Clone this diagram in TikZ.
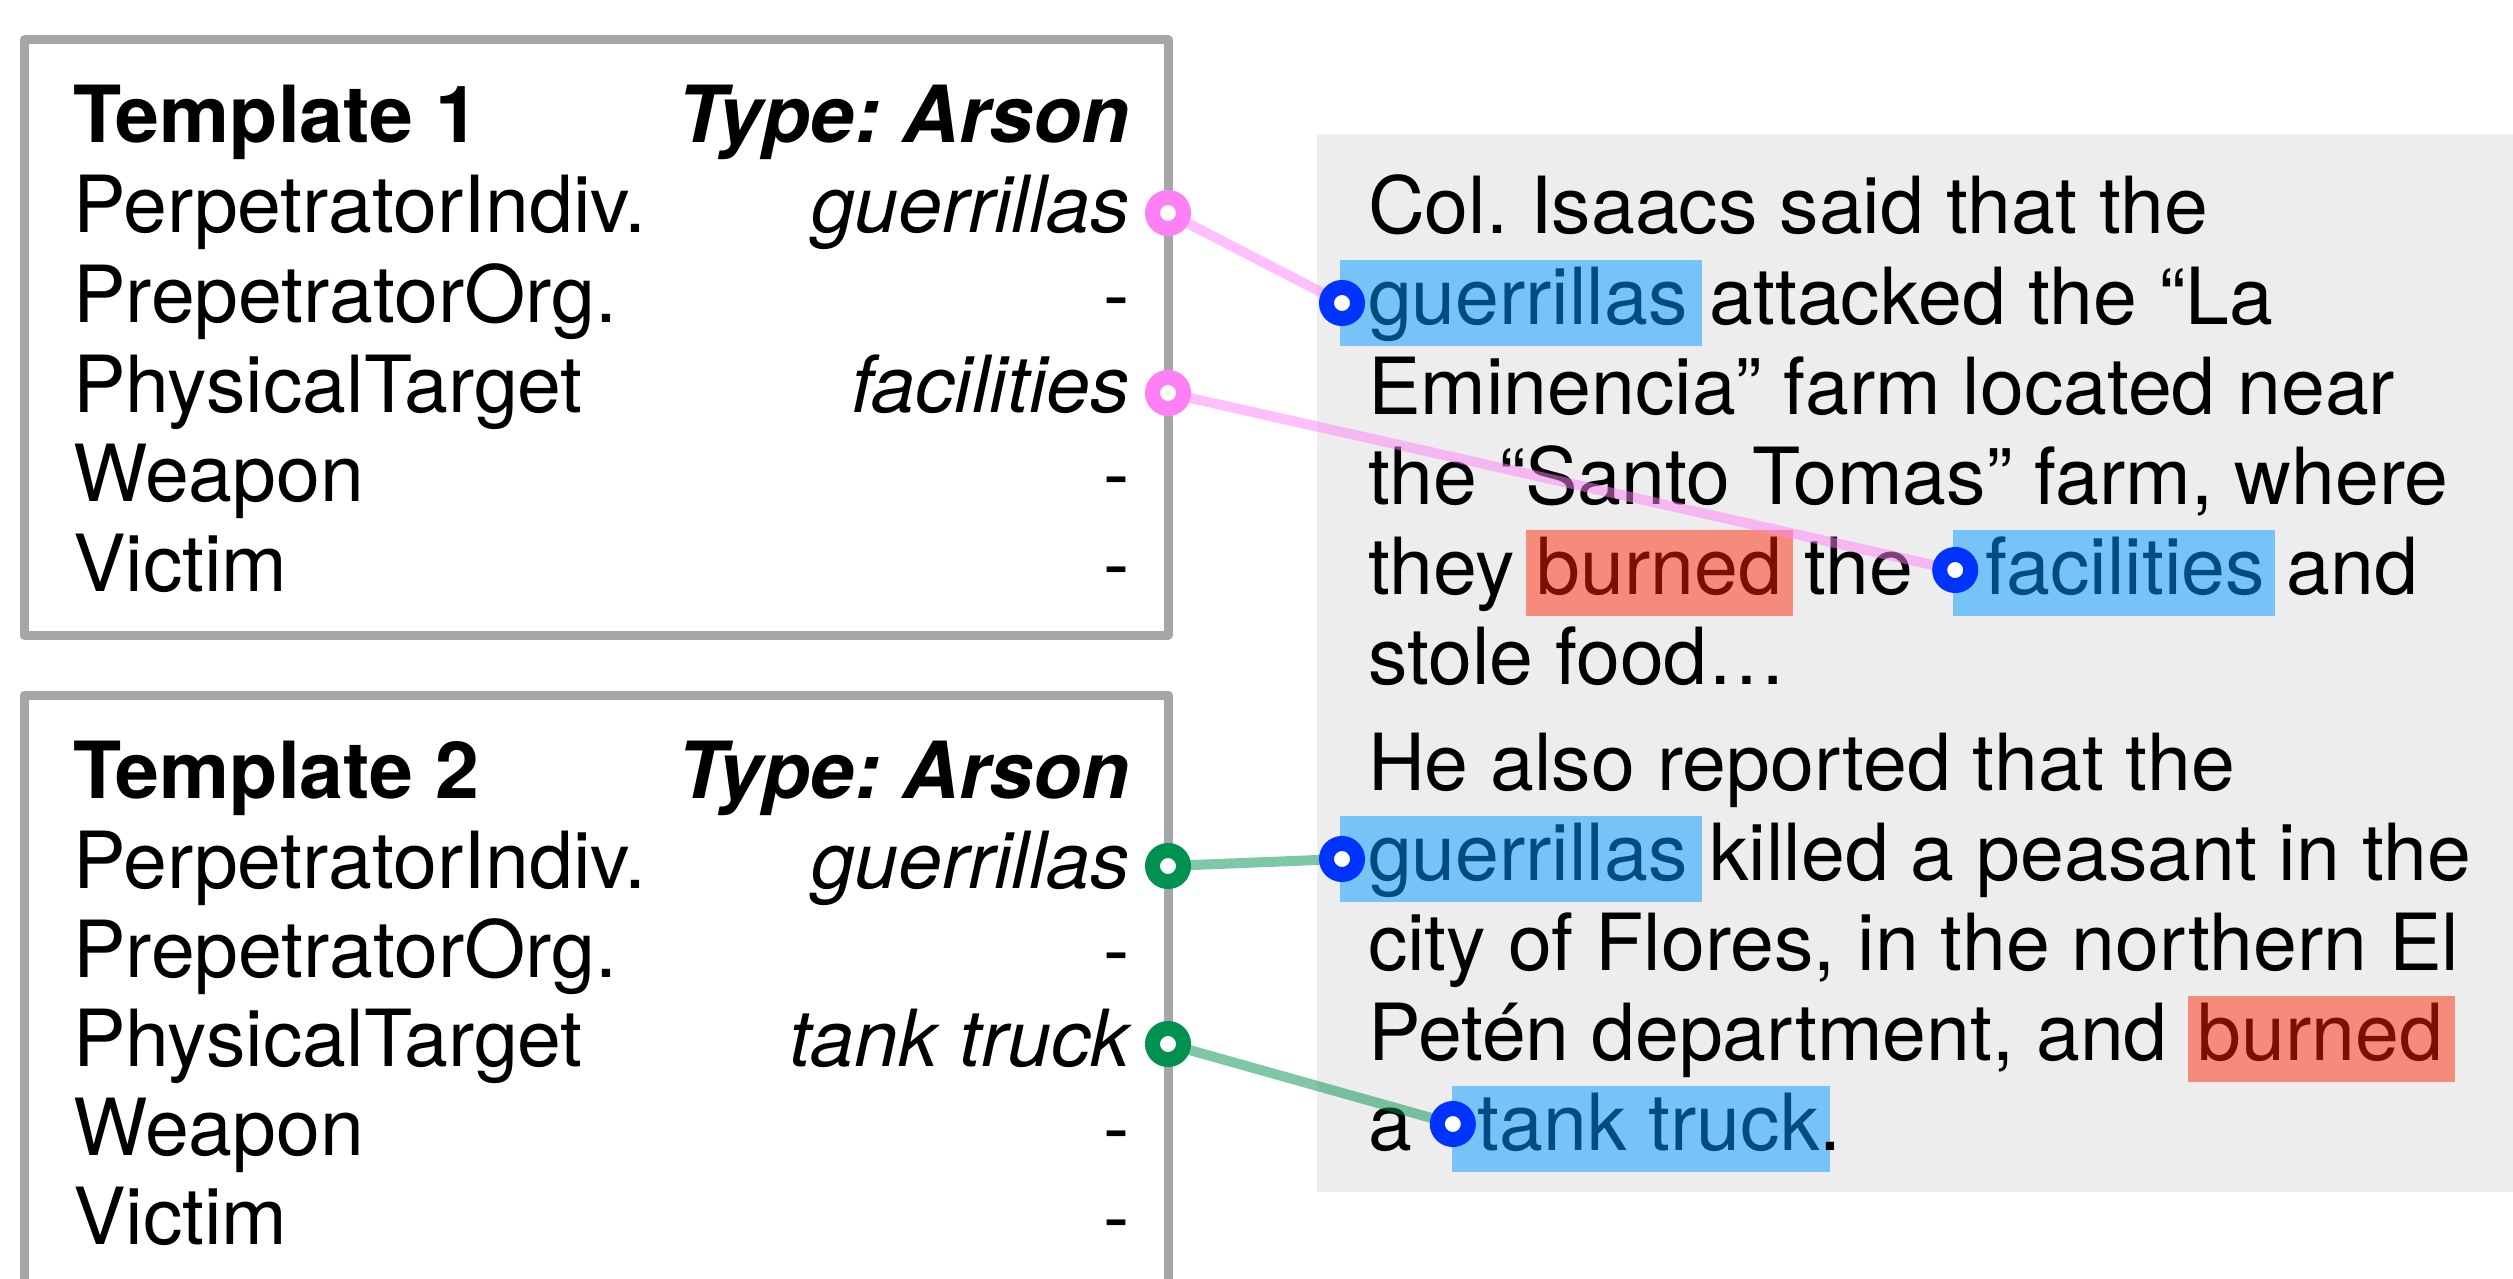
\documentclass[tikz,border=0pt]{standalone}
\usepackage{fontspec}
\setmainfont{TeX Gyre Heros}
\usetikzlibrary{calc,backgrounds}
\frenchspacing
\definecolor{boxgray}{HTML}{A6A6A6}
\definecolor{panelgray}{HTML}{EDEDED}
\definecolor{hlblue}{HTML}{77C3F7}
\definecolor{hlbluetext}{HTML}{004C80}
\definecolor{hlred}{HTML}{F58B7A}
\definecolor{hlredtext}{HTML}{7A1100}
\definecolor{ringblue}{HTML}{0033FF}
\definecolor{ringpink}{HTML}{FF80F5}
\definecolor{ringgreen}{HTML}{009150}
\begin{document}
\begin{tikzpicture}[x=0.5pt,y=-0.5pt,
  every node/.style={inner sep=0pt,outer sep=0pt,font=\fontsize{39.4pt}{45pt}\selectfont\frenchspacing},
  wd/.style={anchor=base west},
  rt/.style={anchor=base east},
  bword/.style={anchor=base west,text=hlbluetext},
  rword/.style={anchor=base west,text=hlredtext},
  tbox/.style={draw=boxgray,line width=4.5pt,line join=round},
  link/.style={line width=5pt,opacity=0.5},
  ring/.style={circle,draw,fill=white,line width=7.5pt,minimum size=15.5pt},
]
\useasboundingbox (0,0) rectangle (2513,1279);

% Template 1
\draw[tbox] (24,40) rectangle (1168,635);
\node[wd] (t1title) at (73,143) {\bfseries Template 1};
\node[rt] (t1type) at (1130,143) {\bfseries\itshape Type: Arson};
\node[wd] (t1a) at (73,233) {PerpetratorIndiv.};
\node[wd] (t1b) at (73,322) {PrepetratorOrg.};
\node[wd] (t1c) at (73,412) {PhysicalTarget};
\node[wd] (t1d) at (73,501) {Weapon};
\node[wd] (t1e) at (73,591) {Victim};
\node[rt] (t1va) at (1130,233) {\itshape guerrillas};
\node[rt] (t1vb) at (1130,322) {-};
\node[rt] (t1vc) at (1130,412) {\itshape facilities};
\node[rt] (t1vd) at (1130,501) {-};
\node[rt] (t1ve) at (1130,591) {-};

% Template 2
\draw[tbox] (24,1300) -- (24,695) -- (1168,695) -- (1168,1300);
\node[wd] (t2title) at (73,798) {\bfseries Template 2};
\node[rt] (t2type) at (1130,798) {\bfseries\itshape Type: Arson};
\node[wd] (t2a) at (73,888) {PerpetratorIndiv.};
\node[wd] (t2b) at (73,977) {PrepetratorOrg.};
\node[wd] (t2c) at (73,1066) {PhysicalTarget};
\node[wd] (t2d) at (73,1155) {Weapon};
\node[wd] (t2e) at (73,1244) {Victim};
\node[rt] (t2va) at (1130,888) {\itshape guerrillas};
\node[rt] (t2vb) at (1130,977) {-};
\node[rt] (t2vc) at (1130,1066) {\itshape tank truck};
\node[rt] (t2vd) at (1130,1155) {-};
\node[rt] (t2ve) at (1130,1244) {-};

% Document text
\node[wd] (l1) at (1368,234) {Col. Isaacs said that the};
\node[bword] (w1) at (1368,324) {guerrillas};
\node[wd] (l2) at (w1.base east) {\ attacked the “La};
\node[wd] (l3) at (1368,414) {Eminencia” farm located near};
\node[wd] (l4) at (1368,504) {the “Santo Tomas” farm, where};
\node[wd] (l5a) at (1368,594) {they\ \null};
\node[rword] (w2) at (l5a.base east) {burned};
\node[wd] (l5b) at (w2.base east) {\ the\hspace{36pt}\null};
\node[bword] (w3) at (l5b.base east) {facilities};
\node[wd] (l5c) at (w3.base east) {\ and};
\node[wd] (l6) at (1368,684) {stole food…};
\node[wd] (l7) at (1368,790) {He also reported that the};
\node[bword] (w4) at (1368,880) {guerrillas};
\node[wd] (l8) at (w4.base east) {\ killed a peasant in the};
\node[wd] (l9) at (1368,970) {city of Flores, in the northern El};
\node[wd] (l10a) at (1368,1060) {Petén department, and\hspace{15pt}\null};
\node[rword] (w5) at (l10a.base east) {burned};
\node[wd] (l11a) at (1368,1150) {a\hspace{33pt}\null};
\node[bword] (w6) at (l11a.base east) {tank truck};
\node[wd] (l11b) at (w6.base east) {.};

\begin{pgfonlayer}{background}
\fill[panelgray] (1317,134) rectangle (2513,1192);
\fill[hlblue] ($(w1.base west)+(-28,-64)$) rectangle ($(w1.base east)+(14,22)$);
\fill[hlred]  ($(w2.base west)+(-11,-64)$) rectangle ($(w2.base east)+(11,22)$);
\fill[hlblue] ($(w3.base west)+(-32,-64)$) rectangle ($(w3.base east)+(10,22)$);
\fill[hlblue] ($(w4.base west)+(-28,-64)$) rectangle ($(w4.base east)+(14,22)$);
\fill[hlred]  ($(w5.base west)+(-10,-64)$) rectangle ($(w5.base east)+(12,22)$);
\fill[hlblue] ($(w6.base west)+(-26,-64)$) rectangle ($(w6.base east)+(10,22)$);
\end{pgfonlayer}

% anchor points
\coordinate (p1) at (1168,213);
\coordinate (p2) at (1168,393);
\coordinate (g1) at (1168,866);
\coordinate (g2) at (1168,1044);
\coordinate (b1) at ($(w1.base west)+(-26,-21)$);
\coordinate (b2) at ($(w3.base west)+(-30,-24)$);
\coordinate (b3) at ($(w4.base west)+(-26,-21)$);
\coordinate (b4) at ($(w6.base west)+(-25,-26)$);

% connectors
\draw[link,ringpink] (p1) -- (b1);
\draw[link,ringpink] (p2) -- (b2);
\draw[link,ringgreen] (g1) -- (b3);
\draw[link,ringgreen] (g2) -- (b4);

% rings
\node[ring,draw=ringpink] (p1c) at (p1) {};
\node[ring,draw=ringpink] (p2c) at (p2) {};
\node[ring,draw=ringgreen] (g1c) at (g1) {};
\node[ring,draw=ringgreen] (g2c) at (g2) {};
\node[ring,draw=ringblue] (b1c) at (b1) {};
\node[ring,draw=ringblue] (b2c) at (b2) {};
\node[ring,draw=ringblue] (b3c) at (b3) {};
\node[ring,draw=ringblue] (b4c) at (b4) {};
\end{tikzpicture}
\end{document}
